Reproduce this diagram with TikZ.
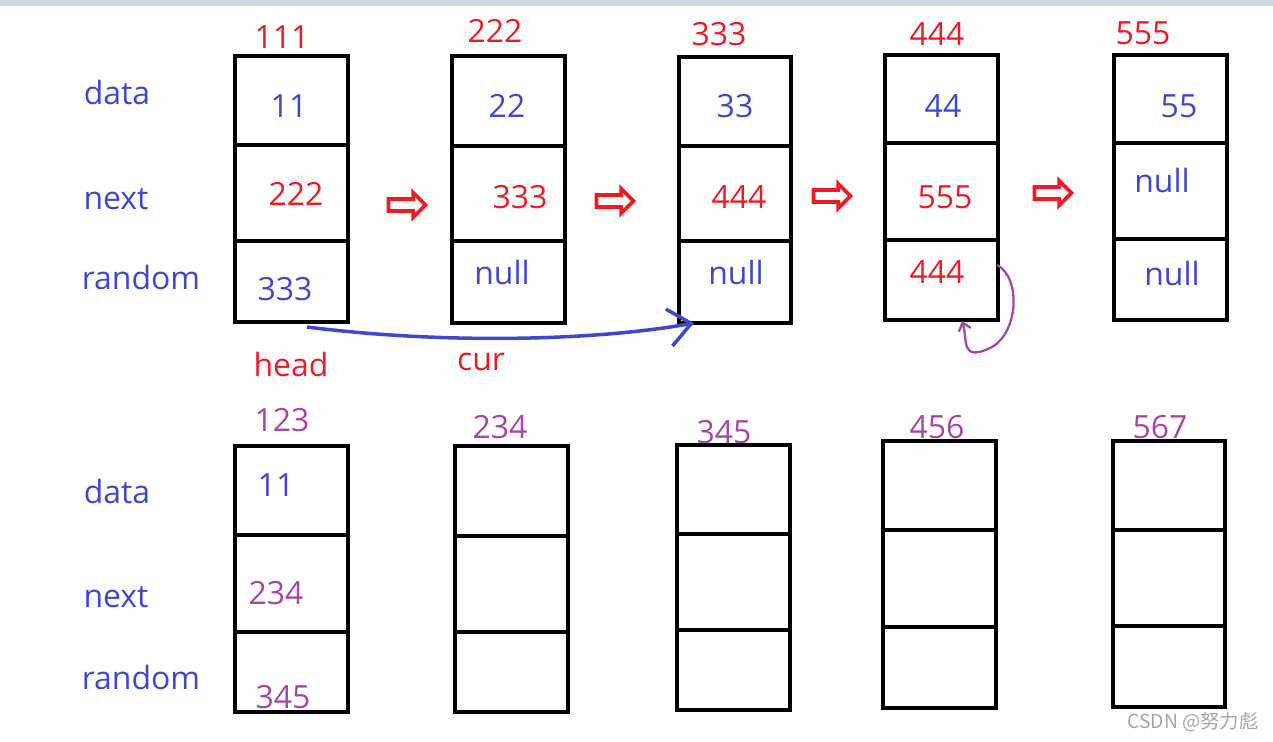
\documentclass[tikz,border=0pt]{standalone}
\usepackage{fontspec}
\setmainfont{Open Sans}
\newfontfamily\cjkfont{Noto Sans CJK SC}
\usetikzlibrary{shapes.arrows, arrows.meta}
\definecolor{fieldblue}{HTML}{3F48CC}
\definecolor{addrred}{HTML}{ED1C24}
\definecolor{copypurple}{HTML}{A349A4}
\definecolor{barcolor}{HTML}{D2D6E3}

\begin{document}
\begin{tikzpicture}[
    x=0.02cm, y=-0.02cm,
    cell/.style={draw, line width=2.3pt, inner sep=0pt, outer sep=0pt},
    txt/.style={font=\fontsize{18.2}{21}\selectfont, inner sep=0pt},
    field/.style={txt, text=fieldblue},
    addr/.style={txt, text=addrred},
    copy/.style={txt, text=copypurple},
    hollow/.style={single arrow, draw=addrred, fill=white, line width=2.1pt,
                   inner xsep=0pt, inner ysep=2.4pt, single arrow head extend=3.6pt,
                   minimum height=0.74cm},
    curarrow/.style={-{Straight Barb[length=4.5mm, width=7.5mm]}, line width=2pt, fieldblue},
    selfarrow/.style={-{Straight Barb[length=1.5mm, width=2.5mm]}, line width=1.3pt, copypurple}
]
    \useasboundingbox (0,0) rectangle (1273,741);
    \fill[barcolor] (0,0) rectangle (1273,6);

    % Original list
    \foreach \n/\xl/\xr/\ya/\yb/\yc/\yd in {t1/235/348/56/145/241/322, t2/452/565/56/146/241/323,
        t3/679/791/57/146/241/323, t4/885/998/55/143/240/320, t5/1114/1227/55/143/239/320,
        b1/235/348/446/535/632/712, b2/455/568/446/536/632/712, b3/677/790/445/534/630/710,
        b4/883/996/441/530/627/708, b5/1113/1225/441/530/626/707} {
        \node[cell, minimum width={(\xr-\xl)*0.02cm}, minimum height={(\yb-\ya)*0.02cm}]
            (\n-d) at ({(\xl+\xr)/2},{(\ya+\yb)/2}) {};
        \node[cell, minimum width={(\xr-\xl)*0.02cm}, minimum height={(\yc-\yb)*0.02cm}]
            (\n-n) at ({(\xl+\xr)/2},{(\yb+\yc)/2}) {};
        \node[cell, minimum width={(\xr-\xl)*0.02cm}, minimum height={(\yd-\yc)*0.02cm}]
            (\n-r) at ({(\xl+\xr)/2},{(\yc+\yd)/2}) {};
    }

    % Field names
    \node[field] (dataA) at (117,93) {data};
    \node[field] (nextA) at (116,199) {next};
    \node[field] (randA) at (141,278) {random};
    \node[field] (dataB) at (117,491) {data};
    \node[field] (nextB) at (116,597) {next};
    \node[field] (randB) at (141,677) {random};

    % Addresses
    \node[addr] (ad1) at (282,37) {111};
    \node[addr] (ad2) at (495,31) {222};
    \node[addr] (ad3) at (719,34) {333};
    \node[addr] (ad4) at (937,34) {444};
    \node[addr] (ad5) at (1143,33) {555};

    % Values
    \node[field] (v1d) at (289,106) {11};
    \node[field] (v2d) at (507,106) {22};
    \node[field] (v3d) at (735,106) {33};
    \node[field] (v4d) at (943,106) {44};
    \node[field] (v5d) at (1179,106) {55};
    \node[addr] (v1n) at (296,194) {222};
    \node[addr] (v2n) at (520,197) {333};
    \node[addr] (v3n) at (739,197) {444};
    \node[addr] (v4n) at (945,197) {555};
    \node[field] (v5n) at (1162,181) {null};
    \node[field] (v1r) at (285,289) {333};
    \node[field] (v2r) at (502,272) {null};
    \node[field] (v3r) at (736,272) {null};
    \node[addr] (v4r) at (937,272) {444};
    \node[field] (v5r) at (1172,273) {null};

    % Next arrows
    \node[hollow] (nx1) at (404,205) {};
    \node[hollow] (nx2) at (612,201) {};
    \node[hollow] (nx3) at (829,196) {};
    \node[hollow] (nx4) at (1050,193) {};

    % Pointers
    \node[addr] (head) at (291,364) {head};
    \node[addr] (cur) at (481,362) {cur};
    \coordinate (hs) at (307,327);
    \coordinate (ce) at (694,323);
    \draw[curarrow] (hs) .. controls (450,345) and (600,340) .. (ce);
    \coordinate (rs) at (997,265);
    \coordinate (re) at (962,321);
    \draw[selfarrow] (rs) .. controls (1022,278) and (1018,335) .. (990,348)
        .. controls (960,362) and (968,340) .. (re);

    % Copied list
    \node[copy] (cp1) at (282,420) {123};
    \node[copy] (cp2) at (500,427) {234};
    \node[copy] (cp3) at (724,432) {345};
    \node[copy] (cp4) at (937,427) {456};
    \node[copy] (cp5) at (1160,427) {567};
    \node[field] (c1d) at (276,485) {11};
    \node[copy] (c1n) at (276,593) {234};
    \node[copy] (c1r) at (283,697) {345};

    \node[font=\cjkfont\fontsize{11}{13}\selectfont, text=gray!70, inner sep=0pt] (mark) at (1193,722) {CSDN @努力彪};
\end{tikzpicture}
\end{document}
